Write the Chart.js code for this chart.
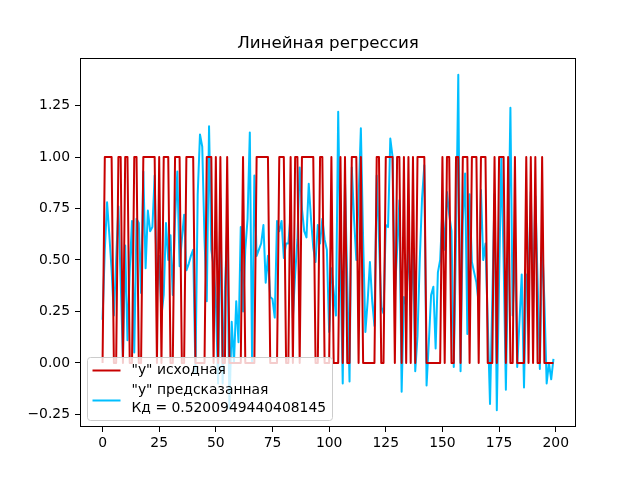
<!DOCTYPE html>
<html>
<head>
<meta charset="utf-8">
<script src="https://cdn.jsdelivr.net/npm/chart.js@4"></script>
<style>
  body { margin: 0; background: #fff; }
</style>
</head>
<body>
<canvas id="myChart" width="640" height="480"></canvas>
<script>
// y исходная (0/1) и y предсказанная, 200 наблюдений
const yTrue = [
  0,1,1,1,1,0,0,1,1,0,
  1,1,0,0,1,1,0,0,1,1,
  1,1,1,1,0,1,0,1,1,1,
  0,0,1,1,1,0,0,1,1,1,
  1,0,0,0,0,0,1,1,1,0,
  1,0,1,0,0,1,0,0,0,0,
  0,0,1,0,0,0,0,0,1,1,
  1,1,1,1,0,0,0,0,1,1,
  1,0,0,1,0,1,1,0,1,1,
  1,1,1,1,0,0,1,1,0,0,
  0,1,0,0,0,1,0,1,0,0,
  1,1,1,0,1,0,0,0,0,0,
  0,1,1,0,0,1,1,1,1,0,
  1,1,0,1,0,1,0,1,0,1,
  1,1,1,0,0,0,0,0,0,0,
  1,0,1,1,0,0,1,1,0,1,
  1,1,0,1,1,1,0,1,1,1,
  0,0,0,1,0,1,1,1,0,1,
  0,0,1,0,0,0,0,1,0,1,
  0,1,0,0,1,0,0,0,0,0
];
const yPred = [
  0.21,0.55,0.78,0.62,0.45,0.23,0.50,0.76,0.40,0.02,
  0.57,0.11,0.45,0.69,0.05,0.70,0.68,0.34,0.93,0.46,
  0.74,0.64,0.66,0.91,0.33,0.52,0.23,0.33,0.68,0.50,
  0.62,0.33,0.70,0.93,0.47,0.60,0.72,0.45,0.48,0.52,
  0.55,-0.05,0.82,1.11,1.05,0.60,0.30,1.15,0.55,0.47,
  0.30,-0.10,0.80,-0.10,0.35,0.66,-0.22,0.20,0.00,0.30,
  0.10,0.66,0.25,0.55,0.70,1.12,0.00,0.91,0.52,0.55,
  0.58,0.67,0.39,0.52,0.32,0.31,0.22,0.69,0.64,0.69,
  0.51,0.58,0.58,0.72,0.22,0.43,0.60,0.95,0.75,0.64,
  0.61,0.87,0.70,0.56,0.49,0.67,0.58,0.70,0.60,0.55,
  0.15,0.46,0.35,0.23,1.22,0.50,-0.10,0.88,0.40,-0.09,
  0.95,0.70,0.50,0.80,1.14,0.60,0.15,0.30,0.49,0.30,
  0.18,0.91,0.60,0.27,0.24,0.67,0.66,1.09,1.00,0.33,
  0.55,0.79,-0.14,0.32,0.28,0.59,0.23,0.60,-0.04,0.13,
  0.50,0.80,0.96,-0.11,0.10,0.33,0.37,0.07,0.44,0.50,
  0.75,0.55,0.83,0.72,0.64,-0.02,0.60,1.40,-0.04,0.69,
  0.92,0.14,0.82,0.49,0.44,0.39,0.29,0.84,0.50,0.58,
  0.20,-0.20,0.30,0.82,-0.23,0.40,1.00,0.50,-0.13,0.50,
  1.24,0.23,0.60,-0.02,0.20,0.43,-0.12,0.43,0.42,0.83,
  0.29,0.81,0.40,-0.03,0.60,0.30,-0.10,0.00,-0.08,0.02
];
const xTicks = [0, 25, 50, 75, 100, 125, 150, 175, 200];
const yTicks = [-0.25, 0, 0.25, 0.5, 0.75, 1.0, 1.25];
const title = 'Линейная регрессия';
const labelTrue = '"y" исходная';
const labelPred = ['"y" предсказанная', 'Кд = 0.5200949440408145'];

const FONT = '"DejaVu Sans", sans-serif';

// рамка осей, заголовок над областью графика и легенда внизу слева
const frameAndLegend = {
  id: 'frameAndLegend',
  afterDatasetsDraw(chart) {
    const { ctx, chartArea: a } = chart;
    ctx.save();
    ctx.strokeStyle = '#000';
    ctx.lineWidth = 1;
    ctx.strokeRect(Math.round(a.left) + 0.5, Math.round(a.top) + 0.5,
      Math.round(a.width) - 1, Math.round(a.height) - 1);
    ctx.fillStyle = '#000';
    ctx.font = '16.7px ' + FONT;
    ctx.textAlign = 'center';
    ctx.textBaseline = 'middle';
    ctx.fillText(title, (a.left + a.right) / 2, a.top - 14);
    ctx.restore();
  },
  afterDraw(chart) {
    const { ctx, chartArea: a } = chart;
    const x = a.left + 7, y = a.bottom - 7 - 63, w = 245, h = 63;
    ctx.save();
    ctx.beginPath();
    ctx.roundRect(x + 0.5, y + 0.5, w, h, 3);
    ctx.fillStyle = 'rgba(255,255,255,0.8)';
    ctx.fill();
    ctx.strokeStyle = '#cccccc';
    ctx.lineWidth = 1;
    ctx.stroke();

    ctx.lineWidth = 2;
    ctx.strokeStyle = '#c80000';
    ctx.beginPath();
    ctx.moveTo(x + 5.5, y + 13.5);
    ctx.lineTo(x + 33.5, y + 13.5);
    ctx.stroke();
    ctx.strokeStyle = '#00bfff';
    ctx.beginPath();
    ctx.moveTo(x + 5.5, y + 43.5);
    ctx.lineTo(x + 33.5, y + 43.5);
    ctx.stroke();

    ctx.fillStyle = '#000';
    ctx.font = '13.9px ' + FONT;
    ctx.textBaseline = 'middle';
    ctx.fillText(labelTrue, x + 44.5, y + 13.5);
    ctx.fillText(labelPred[0], x + 44.5, y + 33.5);
    ctx.fillText(labelPred[1], x + 44.5, y + 51.5);
    ctx.restore();
  }
};

const ctx = document.getElementById('myChart').getContext('2d');

new Chart(ctx, {
  type: 'line',
  data: {
    datasets: [{
      label: labelTrue,
      data: yTrue.map((v, i) => ({ x: i, y: v })),
      borderColor: '#c80000',
      borderWidth: 2,
      pointRadius: 0,
      borderJoinStyle: 'round',
      tension: 0
    }, {
      label: labelPred.join(' '),
      data: yPred.map((v, i) => ({ x: i, y: v })),
      borderColor: '#00bfff',
      borderWidth: 2,
      pointRadius: 0,
      borderJoinStyle: 'round',
      tension: 0
    }]
  },
  options: {
    responsive: false,
    animation: false,
    layout: { padding: { left: 0, right: 64, top: 58, bottom: 0 } },
    plugins: {
      legend: { display: false },
      tooltip: { enabled: false },
      title: { display: false }
    },
    scales: {
      x: {
        type: 'linear',
        min: -9.95,
        max: 208.95,
        afterBuildTicks: (scale) => { scale.ticks = xTicks.map(v => ({ value: v })); },
        afterFit: (scale) => { scale.height = 53; },
        border: { display: false },
        grid: { display: true, drawOnChartArea: false, drawTicks: true, tickLength: 5, color: '#000' },
        ticks: {
          color: '#000',
          padding: 3,
          maxRotation: 0,
          font: { family: FONT, size: 13.9 },
          callback: (v) => String(v)
        }
      },
      y: {
        type: 'linear',
        min: -0.3115,
        max: 1.4815,
        afterBuildTicks: (scale) => { scale.ticks = yTicks.map(v => ({ value: v })); },
        afterFit: (scale) => { scale.width = 80; },
        border: { display: false },
        grid: { display: true, drawOnChartArea: false, drawTicks: true, tickLength: 5, color: '#000' },
        ticks: {
          color: '#000',
          padding: 5,
          font: { family: FONT, size: 13.9 },
          callback: (v) => v.toFixed(2).replace('-', '\u2212')
        }
      }
    }
  },
  plugins: [frameAndLegend]
});
</script>
</body>
</html>
